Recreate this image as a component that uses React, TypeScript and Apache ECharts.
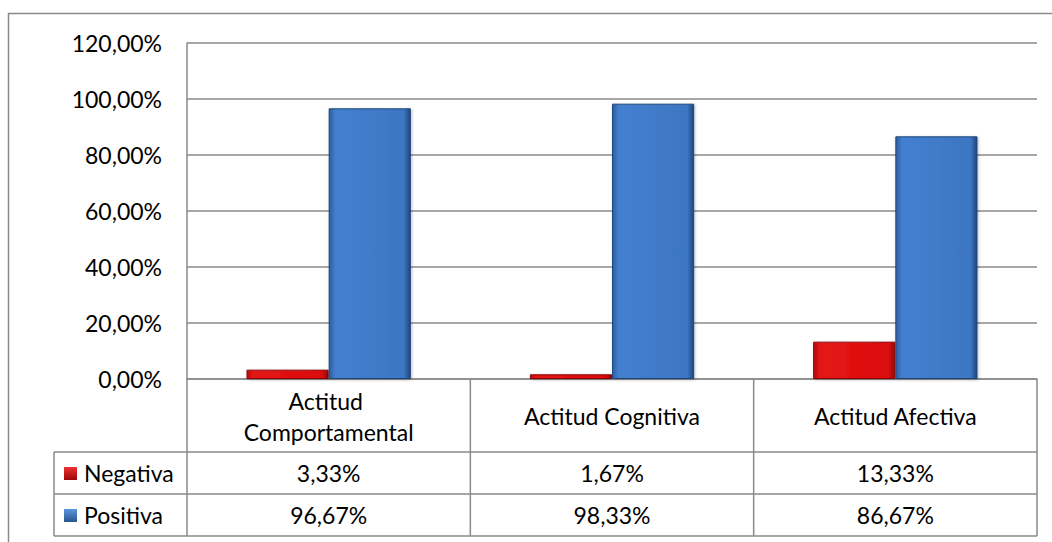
import React, { useEffect, useRef } from "react";
import * as echarts from "echarts";

const categories = ["Actitud Comportamental", "Actitud Cognitiva", "Actitud Afectiva"];
const seriesNames = ["Negativa", "Positiva"];
const negativa = [3.33, 1.67, 13.33];
const positiva = [96.67, 98.33, 86.67];
const yTicks = { min: 0, max: 120, interval: 20 };

const W = 1052;
const H = 542;
const GL = 187;
const GT = 43;
const GR = 15;
const GB = 163;
const FONT = "Lato";
const FS = 23;
const LINE = "#8a8a8a";

const fmt = (v: number) => v.toFixed(2).replace(".", ",") + "%";

export default function App() {
  const ref = useRef<HTMLDivElement>(null);
  useEffect(() => {
    if (!ref.current) return;
    const chart = echarts.init(ref.current, undefined, { renderer: "svg" });
    const gw = W - GL - GR;
    const y0 = H - GB;
    const cw = gw / categories.length;
    const rowTop1 = y0 + 73;
    const rowTop2 = rowTop1 + 42;
    const rowBot = rowTop2 + 42;
    const tableLeft = 54;
    const right = GL + gw;

    const redGrad = new echarts.graphic.LinearGradient(0, 0, 1, 0, [
      { offset: 0, color: "#b80a0a" },
      { offset: 0.08, color: "#e51616" },
      { offset: 0.92, color: "#dc0b0b" },
      { offset: 1, color: "#8e0606" },
    ]);
    const blueGrad = new echarts.graphic.LinearGradient(0, 0, 1, 0, [
      { offset: 0, color: "#2f5e9e" },
      { offset: 0.08, color: "#4380cf" },
      { offset: 0.92, color: "#3d76c2" },
      { offset: 1, color: "#1f467c" },
    ]);
    const keyGrads = [
      new echarts.graphic.LinearGradient(0, 0, 0, 1, [
        { offset: 0, color: "#f03030" },
        { offset: 1, color: "#9a0808" },
      ]),
      new echarts.graphic.LinearGradient(0, 0, 0, 1, [
        { offset: 0, color: "#5a96e0" },
        { offset: 1, color: "#2a5590" },
      ]),
    ];
    const colors = [redGrad, blueGrad];
    const values = [negativa, positiva];

    const graphics: any[] = [];
    const line = (x1: number, y1: number, x2: number, y2: number) =>
      graphics.push({
        type: "line",
        silent: true,
        shape: { x1, y1, x2, y2 },
        style: { stroke: LINE, lineWidth: 1.5 },
      });
    graphics.push({
      type: "rect",
      silent: true,
      shape: { x: 8.5, y: 13.5, width: 1100, height: 600 },
      style: { fill: "none", stroke: LINE, lineWidth: 1.5 },
    });
    for (let i = 0; i <= categories.length; i++) {
      const x = GL + i * cw;
      line(x, y0, x, rowBot);
    }
    line(tableLeft, rowTop1, right, rowTop1);
    line(tableLeft, rowTop2, right, rowTop2);
    line(tableLeft, rowBot, right, rowBot);
    line(tableLeft, rowTop1, tableLeft, rowBot);

    const rowTops = [rowTop1, rowTop2];
    seriesNames.forEach((name, r) => {
      const cy = rowTops[r] + 21;
      graphics.push({
        type: "rect",
        silent: true,
        shape: { x: 64, y: cy - 6, width: 13, height: 13 },
        style: { fill: keyGrads[r] },
      });
      graphics.push({
        type: "text",
        silent: true,
        x: 84,
        y: cy,
        style: {
          text: name,
          font: `${FS}px ${FONT}`,
          fill: "#000",
          textAlign: "left",
          textVerticalAlign: "middle",
        },
      });
      values[r].forEach((v, i) => {
        graphics.push({
          type: "text",
          silent: true,
          x: GL + (i + 0.5) * cw,
          y: cy,
          style: {
            text: fmt(v),
            font: `${FS}px ${FONT}`,
            fill: "#000",
            textAlign: "center",
            textVerticalAlign: "middle",
          },
        });
      });
    });

    chart.setOption({
      animation: false,
      grid: { left: GL, top: GT, right: GR, bottom: GB, containLabel: false },
      xAxis: {
        type: "category",
        data: categories,
        axisLine: { show: true, lineStyle: { color: LINE, width: 1.5 } },
        axisTick: { show: false },
        axisLabel: {
          interval: 0,
          margin: 37,
          verticalAlign: "middle",
          width: 225,
          overflow: "break",
          lineHeight: 31,
          fontSize: FS,
          fontFamily: FONT,
          color: "#000",
        },
      },
      yAxis: {
        type: "value",
        min: yTicks.min,
        max: yTicks.max,
        interval: yTicks.interval,
        axisLine: { show: true, lineStyle: { color: LINE, width: 1.5 } },
        axisTick: { show: false },
        splitLine: { lineStyle: { color: LINE, width: 1.5 } },
        axisLabel: {
          margin: 25,
          fontSize: FS,
          fontFamily: FONT,
          color: "#000",
          formatter: (v: number) => fmt(v),
        },
      },
      series: seriesNames.map((name, r) => ({
        name,
        type: "bar",
        data: values[r],
        barGap: "0%",
        barCategoryGap: "42%",
        itemStyle: {
          color: colors[r],
          borderColor: r === 0 ? "#8e0606" : "#1f467c",
          borderWidth: 1,
          shadowColor: "rgba(0,0,0,0.25)",
          shadowBlur: 3,
          shadowOffsetX: 1,
          shadowOffsetY: 1,
        },
      })),
      graphic: graphics,
    });
    return () => chart.dispose();
  }, []);
  return (
    <div
      ref={ref}
      style={{ position: "fixed", left: 0, top: 0, width: W, height: H, background: "#fff" }}
    />
  );
}
